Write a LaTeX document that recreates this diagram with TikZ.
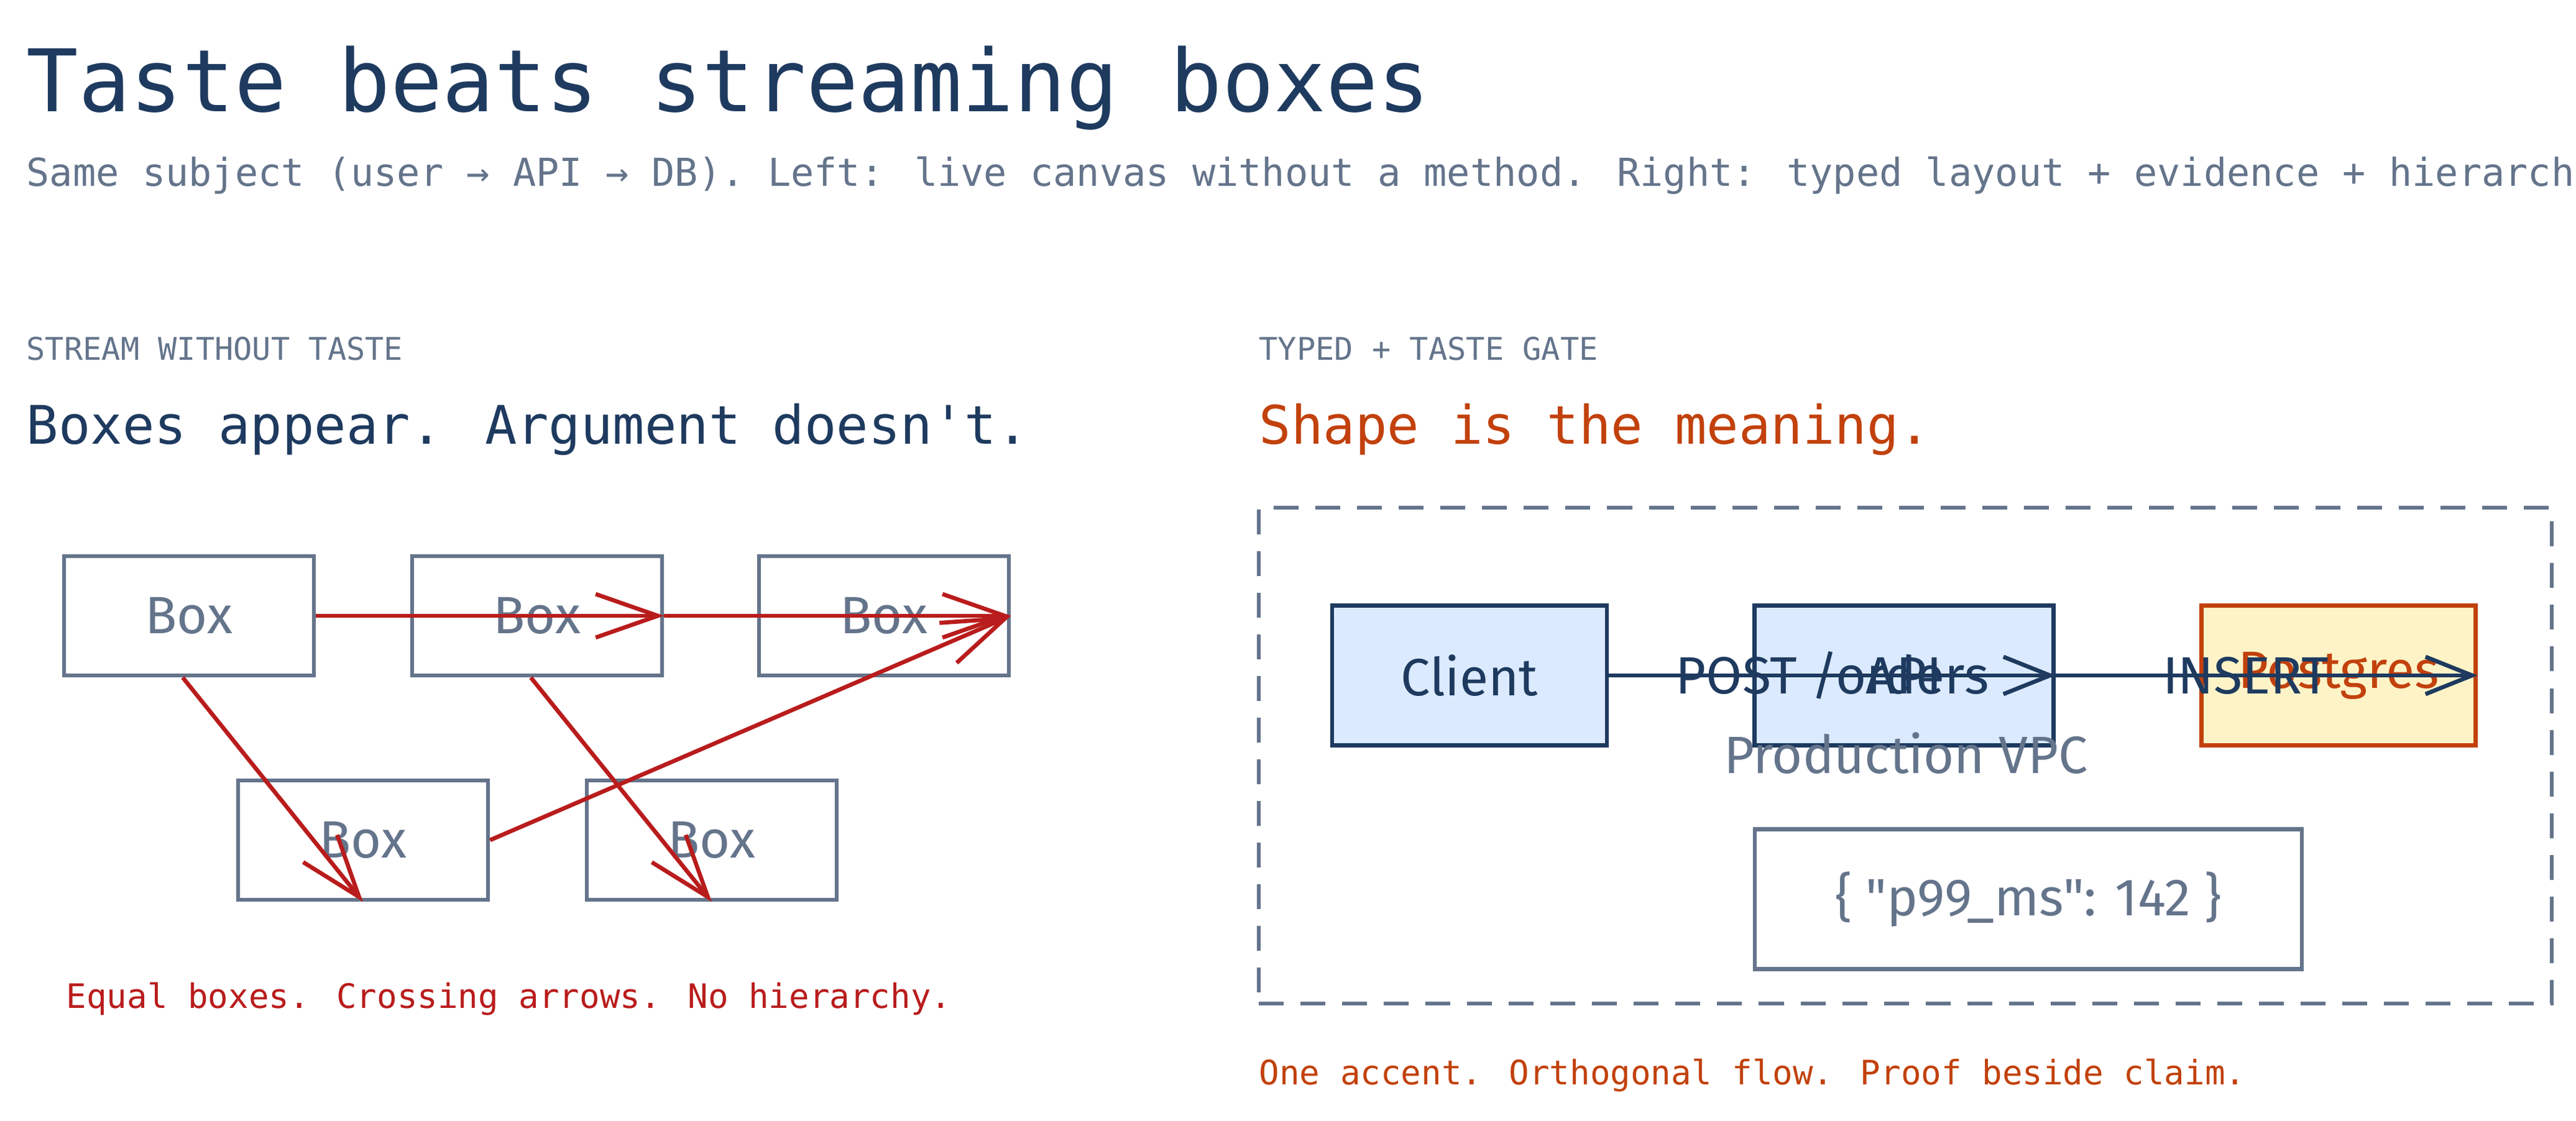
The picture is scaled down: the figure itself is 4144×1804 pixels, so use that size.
\documentclass[tikz,border=0pt]{standalone}
\usepackage{fontspec}
\setmainfont{DejaVu Sans Mono}
\newfontfamily\hand{Fira Sans}
\newfontfamily\monof{DejaVu Sans Mono}
\usetikzlibrary{arrows.meta}
\definecolor{navy}{HTML}{1E3A5F}
\definecolor{slate}{HTML}{64748B}
\definecolor{redc}{HTML}{B91C1C}
\definecolor{orng}{HTML}{C2410C}
\definecolor{bluef}{HTML}{DBEAFE}
\definecolor{yelf}{HTML}{FEF3C7}
\newcommand{\fs}[1]{\fontsize{#1pt}{#1pt}\selectfont}
\begin{document}
\begin{tikzpicture}[x=0.01cm,y=-0.01cm,
  box/.style={draw=slate,line width=1.9pt,minimum width=402*0.01cm,minimum height=192*0.01cm,inner sep=0pt,font=\hand\fs{24},text=slate},
  redarr/.style={draw=redc,line width=1.9pt,-{Straight Barb[length=1cm,width=0.7cm,line width=1.9pt]}},
  navarr/.style={draw=navy,line width=1.9pt,-{Straight Barb[length=0.75cm,width=0.6cm,line width=1.9pt]}},
  svc/.style={draw=navy,fill=bluef,line width=1.9pt,inner sep=0pt,font=\hand\fs{24},text=navy},
  lbl/.style={anchor=base west,inner sep=0pt}]
\useasboundingbox (0,0) rectangle (4144,1804);
\clip (0,0) rectangle (4144,1804);
% header
\node[lbl,text=navy,font=\monof\fs{39.5}] (title) at (42,180) {Taste beats streaming boxes};
\node[lbl,text=slate,font=\monof\fs{17.6}] (sub) at (42,300) {Same subject (user → API → DB). Left: live canvas without a method. Right: typed layout + evidence + hierarchy.};
% left
\node[lbl,text=slate,font=\monof\fs{14.3}] (k1) at (42,580) {STREAM WITHOUT TASTE};
\node[lbl,text=navy,font=\monof\fs{24.3}] (h1) at (42,715) {Boxes appear. Argument doesn't.};
\node[box] (b1) at (304,991) {Box};
\node[box] (b2) at (864,991) {Box};
\node[box] (b3) at (1422,991) {Box};
\node[box] (b4) at (584,1352) {Box};
\node[box] (b5) at (1145,1352) {Box};
\draw[redarr] (b1.east) -- (b2.east);
\draw[redarr] (b2.east) -- (b3.east);
\coordinate (s1) at (304,1087);
\coordinate (s2) at (864,1087);
\draw[redarr] (b1.south) ++(-0.1cm,0) -- (b4.south);
\draw[redarr] (b2.south) ++(-0.1cm,0) -- (b5.south);
\draw[redarr] (b4.east) -- (b3.east);
\node[lbl,text=redc,font=\monof\fs{15.4}] (c1) at (106,1622) {Equal boxes. Crossing arrows. No hierarchy.};
% right
\node[lbl,text=slate,font=\monof\fs{14.3}] (k2) at (2025,580) {TYPED + TASTE GATE};
\node[lbl,text=orng,font=\monof\fs{24.3}] (h2) at (2025,715) {Shape is the meaning.};
\node[draw=slate,line width=1.9pt,dash pattern=on 0.4cm off 0.27cm,minimum width=2080*0.01cm,minimum height=798*0.01cm,inner sep=0pt] (vpc) at (3065,1216) {};
\node[svc,minimum width=442*0.01cm,minimum height=225*0.01cm] (cl) at (2364,1087) {Client};
\node[svc,minimum width=481*0.01cm,minimum height=225*0.01cm] (api) at (3063,1087) {API};
\node[draw=orng,fill=yelf,line width=1.9pt,inner sep=0pt,font=\hand\fs{24},text=orng,minimum width=441*0.01cm,minimum height=225*0.01cm] (pg) at (3762,1087) {Postgres};
\node[text=slate,font=\hand\fs{24},inner sep=0pt] (vl) at (3066,1212) {Production VPC};
\node[draw=slate,line width=1.9pt,inner sep=0pt,minimum width=880*0.01cm,minimum height=225*0.01cm,font=\hand\fs{24},text=slate] (ev) at (3263,1447) {\{ "p99\_ms": 142 \}};
\draw[navarr] (cl.east) -- node[text=navy,font=\hand\fs{24},inner sep=0pt]{POST /orders} (api.east);
\draw[navarr] (api.east) -- node[text=navy,font=\hand\fs{24},inner sep=0pt,pos=0.45]{INSERT} (pg.east);
\node[lbl,text=orng,font=\monof\fs{15.4}] (c2) at (2025,1745) {One accent. Orthogonal flow. Proof beside claim.};
\end{tikzpicture}
\end{document}
